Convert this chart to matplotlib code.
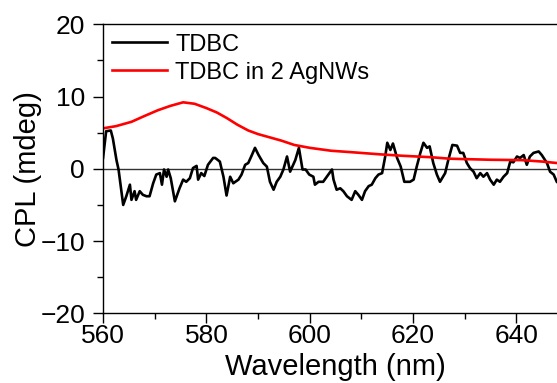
import matplotlib.pyplot as plt
from matplotlib.ticker import MultipleLocator

plt.rcParams['font.family'] = ['Liberation Sans', 'DejaVu Sans']

# TDBC (black)
wl_tdbc = [560.0, 560.6, 561.5, 561.9, 562.6, 563.0, 563.9, 564.5, 565.2, 565.5,
           566.1, 566.4, 567.1, 567.7, 568.4, 569.0, 569.7, 570.3, 571.0, 571.4,
           571.8, 572.3, 572.6, 573.1, 573.9, 574.8, 575.5, 576.1, 576.8, 577.4,
           578.1, 578.4, 579.0, 579.6, 580.3, 581.3, 581.7, 582.6, 583.3, 583.9,
           584.6, 585.2, 586.2, 586.8, 587.5, 588.1, 588.8, 589.4, 590.1, 591.0,
           591.7, 592.3, 593.0, 593.6, 594.3, 594.9, 595.6, 596.2, 597.2, 597.9,
           598.6, 599.2, 599.9, 600.7, 601.0, 601.7, 602.6, 603.6, 604.3, 604.6,
           605.2, 605.9, 606.5, 607.2, 608.1, 608.8, 609.4, 610.1, 610.7, 611.4,
           612.0, 612.7, 613.3, 614.0, 614.6, 615.0, 615.6, 616.1, 616.9, 617.6,
           618.3, 619.4, 620.1, 620.7, 621.4, 622.0, 622.7, 623.2, 623.9, 624.6,
           625.2, 626.2, 626.8, 627.6, 628.5, 629.1, 629.7, 630.4, 631.0, 631.7,
           632.3, 633.0, 633.6, 634.3, 634.9, 635.6, 636.2, 636.8, 637.5, 638.2,
           638.8, 639.4, 640.1, 640.7, 641.4, 642.0, 642.6, 643.3, 644.3, 644.9,
           645.9, 646.5, 647.2, 647.8, 649.0]
cpl_tdbc = [1.5, 5.2, 5.3, 4.2, 1.2, -0.1, -5.0, -3.8, -2.2, -4.3,
            -3.1, -4.3, -3.1, -3.6, -3.8, -3.8, -2.0, -0.8, -0.6, -2.2,
            -0.1, -1.1, -0.1, -1.3, -4.5, -2.7, -1.5, -1.8, -1.3, 0.1,
            0.4, -1.5, -0.6, -1.0, 0.55, 1.5, 1.5, 1.0, -1.1, -3.7,
            -1.1, -2.0, -1.5, -0.8, 0.55, 0.8, 1.9, 2.9, 1.9, 0.8,
            0.3, -1.8, -2.9, -1.8, -1.1, -0.1, 1.7, -0.4, 1.2, 2.9,
            -0.1, -0.1, -0.8, -1.1, -2.2, -1.8, -1.8, -0.8, -0.1, -1.5,
            -2.9, -2.7, -3.1, -3.8, -4.3, -3.1, -3.6, -4.3, -3.1, -2.4,
            -2.2, -1.3, -0.8, -0.6, 1.7, 3.6, 2.6, 3.5, 1.5, 0.3,
            -1.8, -1.8, -1.5, 0.3, 2.2, 3.6, 2.9, 3.1, 0.8, -0.8,
            -1.8, -0.6, 1.2, 3.3, 3.2, 2.2, 2.2, 0.8, 0.1, -0.4,
            -1.3, -0.6, -1.1, -0.6, -1.5, -2.2, -1.5, -1.8, -1.1, -0.6,
            1.0, 0.9, 1.7, 1.5, 1.9, 0.55, 1.7, 2.2, 2.4, 1.9,
            0.8, -0.4, -0.8, -1.8, -2.5]

# TDBC in 2 AgNWs (red)
wl_agnw = [560.0, 562.5, 565.5, 568.0, 570.6, 573.0, 575.5, 577.7, 580.0, 582.0,
           584.0, 586.0, 588.1, 590.0, 592.0, 594.5, 597.0, 600.0, 604.1, 608.0,
           613.6, 618.0, 623.5, 627.0, 630.0, 635.0, 641.0, 645.0, 647.8, 650.0]
cpl_agnw = [5.6, 5.9, 6.5, 7.3, 8.1, 8.7, 9.2, 9.0, 8.4, 7.8,
            7.0, 6.1, 5.3, 4.8, 4.4, 3.9, 3.3, 2.9, 2.5, 2.3,
            2.0, 1.8, 1.6, 1.4, 1.34, 1.25, 1.2, 1.0, 0.8, 0.7]

fig = plt.figure(figsize=(5.57, 3.83), dpi=100, facecolor='white')
ax = fig.add_axes([0.185, 0.182, 0.835, 0.7546])

ax.axhline(0, color='#333333', linewidth=1.0, zorder=1)
ax.plot(wl_tdbc, cpl_tdbc, color='black', linewidth=1.9, label='TDBC')
ax.plot(wl_agnw, cpl_agnw, color='#ff0000', linewidth=1.9, label='TDBC in 2 AgNWs')

ax.set_xlim(560, 650)
ax.set_ylim(-20, 20)
ax.xaxis.set_major_locator(MultipleLocator(20))
ax.xaxis.set_minor_locator(MultipleLocator(10))
ax.yaxis.set_major_locator(MultipleLocator(10))
ax.yaxis.set_minor_locator(MultipleLocator(5))

ax.spines['right'].set_visible(False)
for s in ['left', 'bottom', 'top']:
    ax.spines[s].set_linewidth(1.0)

ax.tick_params(which='both', direction='out', top=False, right=False, width=1.0)
ax.tick_params(which='major', length=7, labelsize=19)
ax.tick_params(which='minor', length=4)
ax.tick_params(axis='x', which='major', pad=1)
ax.tick_params(axis='y', which='major', pad=6)

ax.set_xlabel('Wavelength (nm)', fontsize=21, labelpad=3)
ax.set_ylabel('CPL (mdeg)', fontsize=21, labelpad=-1)

ax.legend(loc='upper left', frameon=False, fontsize=17, handlelength=2.3,
          handletextpad=0.35, borderaxespad=0.0, labelspacing=0.25,
          bbox_to_anchor=(0.0, 1.0))

plt.savefig('out.png', dpi=100)
